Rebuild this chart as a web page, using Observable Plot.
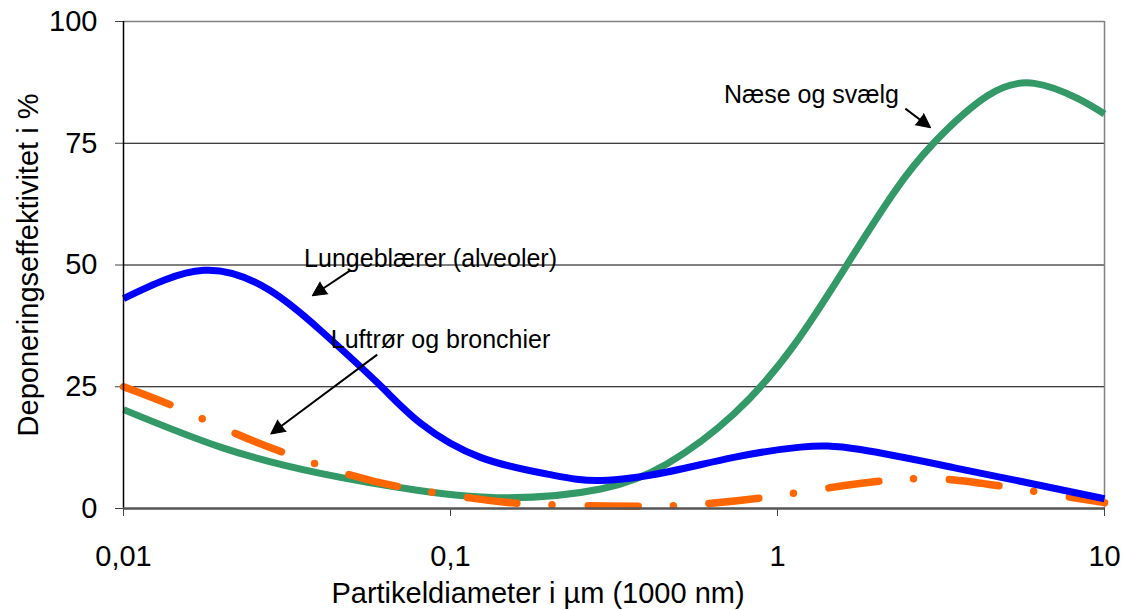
<!DOCTYPE html>
<html>
<head>
<meta charset="utf-8">
<script src="https://cdn.jsdelivr.net/npm/d3@7"></script>
<script src="https://cdn.jsdelivr.net/npm/@observablehq/plot@0.6"></script>
<style>
  html, body { margin: 0; padding: 0; background: #fff; }
  #chart { width: 1124px; height: 610px; }
</style>
</head>
<body>
<div id="chart"></div>
<script>
// ---- Data ----
// Næse og svælg (green)
const naeseX = [0.01, 0.02, 0.04, 0.08, 0.15, 0.288, 0.46, 0.735, 1.122, 1.64, 2.26, 3.0, 4.4, 6.1, 8.27, 10];
const naeseY = [20.3, 12.5, 7.2, 3.7, 2.2, 4.0, 9.2, 19.4, 33.5, 50.3, 64.7, 75.0, 84.8, 87.3, 84.2, 81];
// Lungeblærer (alveoler) (blue)
const lungeX = [0.01, 0.0176, 0.028, 0.04, 0.06, 0.081, 0.1235, 0.2, 0.288, 0.46, 0.735, 1.176, 1.794, 3.45, 5, 10];
const lungeY = [43.1, 48.9, 44.8, 36.6, 25.7, 17.5, 10.5, 7.0, 5.75, 7.5, 10.5, 12.6, 12.1, 8.4, 6.2, 2.0];
// Luftrør og bronchier (orange, dash-dot)
const luftX = [0.01, 0.0146, 0.022, 0.032, 0.0488, 0.0718, 0.111, 0.168, 0.3, 0.45, 0.607, 0.919, 1.39, 2.12, 2.64, 3.31, 4.94, 7.6, 10];
const luftY = [25, 20.7, 15.4, 11.1, 7.0, 4.3, 2.3, 1.0, 0.5, 0.5, 1.0, 2.3, 4.1, 5.7, 6.1, 6.0, 4.5, 2.5, 1.2];

// Axis ticks
const xTickValues = [0.01, 0.1, 1, 10];
const xTickLabels = ["0,01", "0,1", "1", "10"];
const yTickValues = [0, 25, 50, 75, 100];
const gridValues = [25, 50, 75];

// Titles
const xTitle = "Partikeldiameter i µm (1000 nm)";
const yTitle = "Deponeringseffektivitet i %";

// Annotations (data coordinates)
const labelText = ["Næse og svælg", "Lungeblærer (alveoler)", "Luftrør og bronchier"];
const labelX = [1.27, 0.0869, 0.0932];
const labelY = [85.0, 51.3, 34.7];
const arrowX1 = [2.46, 0.0494, 0.0597];
const arrowY1 = [82.1, 48.9, 31.6];
const arrowX2 = [2.94, 0.0378, 0.0282];
const arrowY2 = [78.2, 43.7, 15.3];

// ---- Layout ----
const W = 1124, H = 610, ML = 123, MR = 20, MT = 21, MB = 102;
const FONT = "'Liberation Sans', Arial, Helvetica, sans-serif";

const rows = (xs, ys) => xs.map((x, i) => ({x, y: ys[i]}));
const naese = rows(naeseX, naeseY);
const lunge = rows(lungeX, lungeY);
const luft = rows(luftX, luftY);
const labels = labelText.map((t, i) => ({t, x: labelX[i], y: labelY[i]}));

// scales to compute arrowhead orientation
const sx = Plot.scale({x: {type: "log", domain: [0.01, 10], range: [ML, W - MR]}});
const sy = Plot.scale({y: {type: "linear", domain: [0, 100], range: [H - MB, MT]}});
const HEAD_L = 14, HEAD_R = 7;
const arrows = arrowX1.map((_, i) => {
  const px1 = sx.apply(arrowX1[i]), py1 = sy.apply(arrowY1[i]);
  const px2 = sx.apply(arrowX2[i]), py2 = sy.apply(arrowY2[i]);
  const dx = px2 - px1, dy = py2 - py1, len = Math.hypot(dx, dy);
  const ux = dx / len, uy = dy / len;
  const bx = px2 - ux * (HEAD_L - 2), by = py2 - uy * (HEAD_L - 2);
  return {
    x1: arrowX1[i], y1: arrowY1[i],
    x2: sx.invert(bx), y2: sy.invert(by),
    tx: arrowX2[i], ty: arrowY2[i],
    angle: Math.atan2(dx, -dy) * 180 / Math.PI
  };
});

const chart = Plot.plot({
  width: W, height: H,
  marginLeft: ML, marginRight: MR, marginTop: MT, marginBottom: MB,
  style: {fontFamily: FONT, fontSize: "29px", color: "black", background: "white"},
  x: {type: "log", domain: [0.01, 10]},
  y: {domain: [0, 100]},
  marks: [
    Plot.ruleY(gridValues, {stroke: "black", strokeWidth: 1}),
    Plot.ruleY([100], {stroke: "#808080", strokeWidth: 1.5}),
    Plot.ruleX([10], {stroke: "#808080", strokeWidth: 1.5}),
    Plot.axisX({ticks: xTickValues, tickFormat: d => xTickLabels[xTickValues.indexOf(d)], tickSize: 8, tickPadding: 29, label: null, fontSize: 29, stroke: "#444"}),
    Plot.axisY({ticks: yTickValues, tickSize: 8, tickPadding: 18, label: null, fontSize: 29, stroke: "#444"}),
    Plot.line(naese, {x: "x", y: "y", stroke: "#339966", strokeWidth: 7, curve: "natural", strokeLinecap: "butt"}),
    Plot.line(luft, {x: "x", y: "y", stroke: "#FF6600", strokeWidth: 7.5, curve: "natural", strokeDasharray: "50,35,0,36", strokeLinecap: "round"}),
    Plot.line(lunge, {x: "x", y: "y", stroke: "#0000FF", strokeWidth: 7, curve: "natural", strokeLinecap: "butt"}),
    Plot.ruleX([0.01], {stroke: "black", strokeWidth: 1.5}),
    Plot.ruleY([0], {stroke: "#555", strokeWidth: 2.5}),
    Plot.link(arrows, {x1: "x1", y1: "y1", x2: "x2", y2: "y2", stroke: "black", strokeWidth: 2}),
    Plot.vector(arrows, {x: "tx", y: "ty", rotate: "angle", length: HEAD_L, r: HEAD_R, shape: "spike", anchor: "end", fill: "black", stroke: "black", strokeWidth: 1}),
    Plot.text(labels, {x: "x", y: "y", text: "t", fontSize: 25, fill: "black", textAnchor: "middle", lineAnchor: "middle"}),
    Plot.text([yTitle], {frameAnchor: "left", rotate: -90, dx: -95, fontSize: 29, fill: "black", textAnchor: "middle", lineAnchor: "middle"}),
    Plot.text([xTitle], {frameAnchor: "bottom", dx: -76, dy: 85, fontSize: 29, fill: "black", textAnchor: "middle", lineAnchor: "middle"})
  ]
});
document.getElementById("chart").appendChild(chart);
</script>
</body>
</html>
